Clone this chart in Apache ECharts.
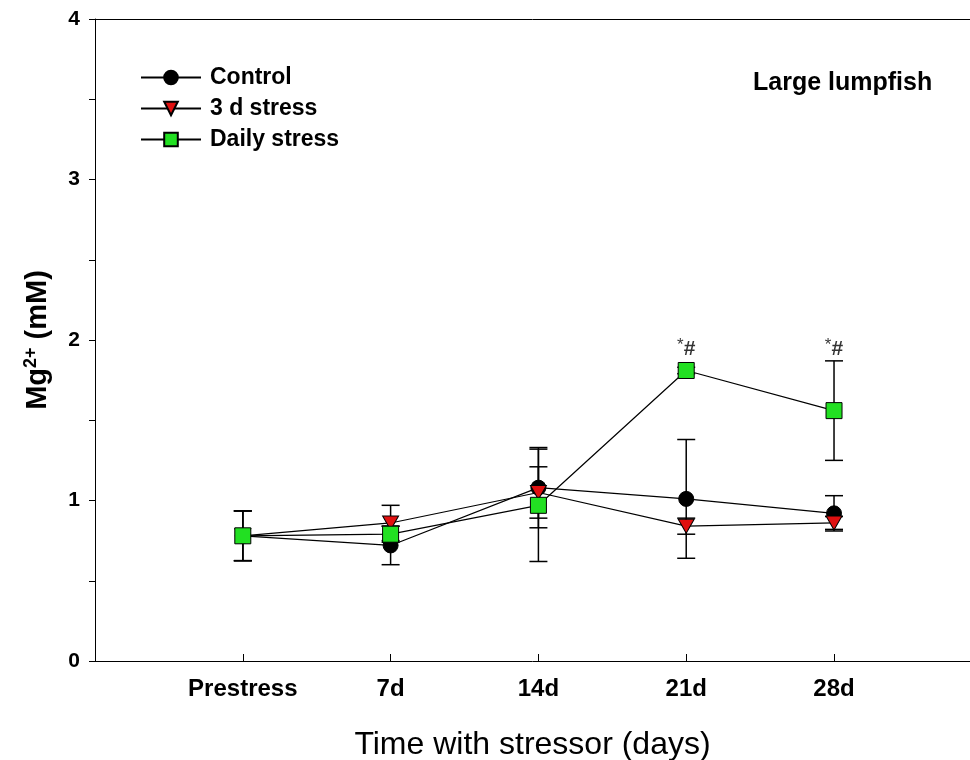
<!DOCTYPE html>
<html><head><meta charset="utf-8">
<script src="https://cdn.jsdelivr.net/npm/echarts@6/dist/echarts.min.js"></script>
<style>html,body{margin:0;padding:0;background:#fff}#c{width:970px;height:760px}</style>
</head><body><div id="c"></div>
<script>
const categories = ['Prestress', '7d', '14d', '21d', '28d'];
const controlMean = [0.78, 0.72, 1.08, 1.01, 0.92];
const controlErr  = [0.155, 0.12, 0.25, 0.37, 0.11];
const stress3Mean = [0.78, 0.86, 1.05, 0.84, 0.86];
const stress3Err  = [0.155, 0.11, 0.16, 0.05, 0.04];
const dailyMean   = [0.78, 0.79, 0.97, 1.81, 1.56];
const dailyErr    = [0.155, 0.05, 0.35, 0.02, 0.31];
const dailySig    = ['', '', '', '*#', '*#'];
const sigLevel    = 1.94;
const yTicks = [0, 1, 2, 3, 4];

const font = 'Arial, "Liberation Sans", sans-serif';
const narrow = '"Liberation Sans Narrow", "Arial Narrow", Arial, sans-serif';

function pts(arr){ return arr.map((v,i)=>[i,v]); }
function errData(m,e){ return m.map((v,i)=>[i, v-e[i], v+e[i]]); }
function errSeries(m,e,z){
  return {
    type:'custom', z:z, silent:true,
    data: errData(m,e),
    renderItem: function(params, api){
      const x = api.value(0);
      const lo = api.coord([x, api.value(1)]);
      const hi = api.coord([x, api.value(2)]);
      const w = 9;
      const st = {stroke:'#000', lineWidth:1.5};
      return {type:'group', children:[
        {type:'line', shape:{x1:lo[0],y1:lo[1],x2:hi[0],y2:hi[1]}, style:st},
        {type:'line', shape:{x1:lo[0]-w,y1:lo[1],x2:lo[0]+w,y2:lo[1]}, style:st},
        {type:'line', shape:{x1:hi[0]-w,y1:hi[1],x2:hi[0]+w,y2:hi[1]}, style:st}
      ]};
    }
  };
}
const triDown = 'path://M0,0 L10,0 L5,9 Z';

const chart = echarts.init(document.getElementById('c'), null, {renderer:'canvas'});
chart.setOption({
  animation:false,
  backgroundColor:'#fff',
  grid:{left:95, top:19, right:0, bottom:99, outerBoundsMode:'none', containLabel:false},
  legend:{
    left:135, top:61, orient:'vertical', itemGap:8, itemWidth:60, itemHeight:17,
    textStyle:{fontFamily:font, fontWeight:'bold', fontSize:23, color:'#000', padding:[0,0,0,4]},
    data:['Control','3 d stress','Daily stress']
  },
  graphic:[
    {type:'text', left:753, top:71, style:{text:'Large lumpfish', font:'bold 25px '+font, fill:'#000'}}
  ],
  xAxis:[{
    type:'value', min:-1, max:4.92, interval:1,
    name:'Time with stressor (days)', nameLocation:'middle', nameGap:68,
    nameTextStyle:{fontFamily:narrow, fontSize:32, color:'#000'},
    axisLine:{onZero:false, lineStyle:{color:'#000', width:1}},
    axisTick:{inside:true, length:7, lineStyle:{color:'#000'}, customValues:[0,1,2,3,4]},
    axisLabel:{customValues:[0,1,2,3,4], formatter:v=>categories[v]||'', fontFamily:narrow, fontWeight:'bold', fontSize:24, color:'#000', margin:16},
    splitLine:{show:false}
  },{
    type:'value', position:'top', min:-1, max:4.92,
    axisLine:{show:true, onZero:false, lineStyle:{color:'#000', width:1}},
    axisTick:{show:false}, axisLabel:{show:false}, splitLine:{show:false}
  }],
  yAxis:{
    type:'value', min:0, max:4, interval:1,
    name:'{a|Mg}{s|2+}{a| (mM)}', nameLocation:'middle', nameGap:42,
    nameTextStyle:{rich:{a:{fontFamily:font, fontWeight:'bold', fontSize:29, color:'#000'}, s:{fontFamily:font, fontWeight:'bold', fontSize:18, color:'#000', verticalAlign:'top', padding:[0,0,13,0]}}},
    axisLine:{show:true, onZero:false, lineStyle:{color:'#000', width:1}},
    axisTick:{length:6, lineStyle:{color:'#000'}},
    minorTick:{show:true, splitNumber:2, length:6, lineStyle:{color:'#000'}},
    axisLabel:{formatter:v=>yTicks.includes(v)?String(v):'', fontFamily:font, fontWeight:'bold', fontSize:21, color:'#000', margin:15},
    splitLine:{show:false}
  },
  series:[
    errSeries(controlMean, controlErr, 1),
    errSeries(stress3Mean, stress3Err, 1),
    errSeries(dailyMean, dailyErr, 1),
    {name:'Control', type:'line', z:3, data:pts(controlMean), symbol:'circle', symbolSize:15,
     lineStyle:{color:'#000', width:1.2}, itemStyle:{color:'#000', borderColor:'#000', borderWidth:1}},
    {name:'3 d stress', type:'line', z:4, data:pts(stress3Mean), symbol:triDown, symbolSize:[16,14],
     lineStyle:{color:'#000', width:1.2}, itemStyle:{color:'#e01010', borderColor:'#000', borderWidth:1}},
    {name:'Daily stress', type:'line', z:5, data:pts(dailyMean), symbol:'rect', symbolSize:16,
     lineStyle:{color:'#000', width:1.2}, itemStyle:{color:'#22e022', borderColor:'#000', borderWidth:1}},
    {type:'scatter', z:6, silent:true, symbolSize:0,
     data: dailySig.map((s,i)=>s?[i, sigLevel]:null).filter(d=>d),
     label:{show:true, position:'inside',
       formatter:'{s|*}{h|#}',
       rich:{s:{fontFamily:font, fontSize:17, color:'#000', verticalAlign:'top', padding:[0,0,8,0]}, h:{fontFamily:font, fontWeight:'bold', fontSize:21, color:'#000'}}}}
  ]
});
</script></body></html>
